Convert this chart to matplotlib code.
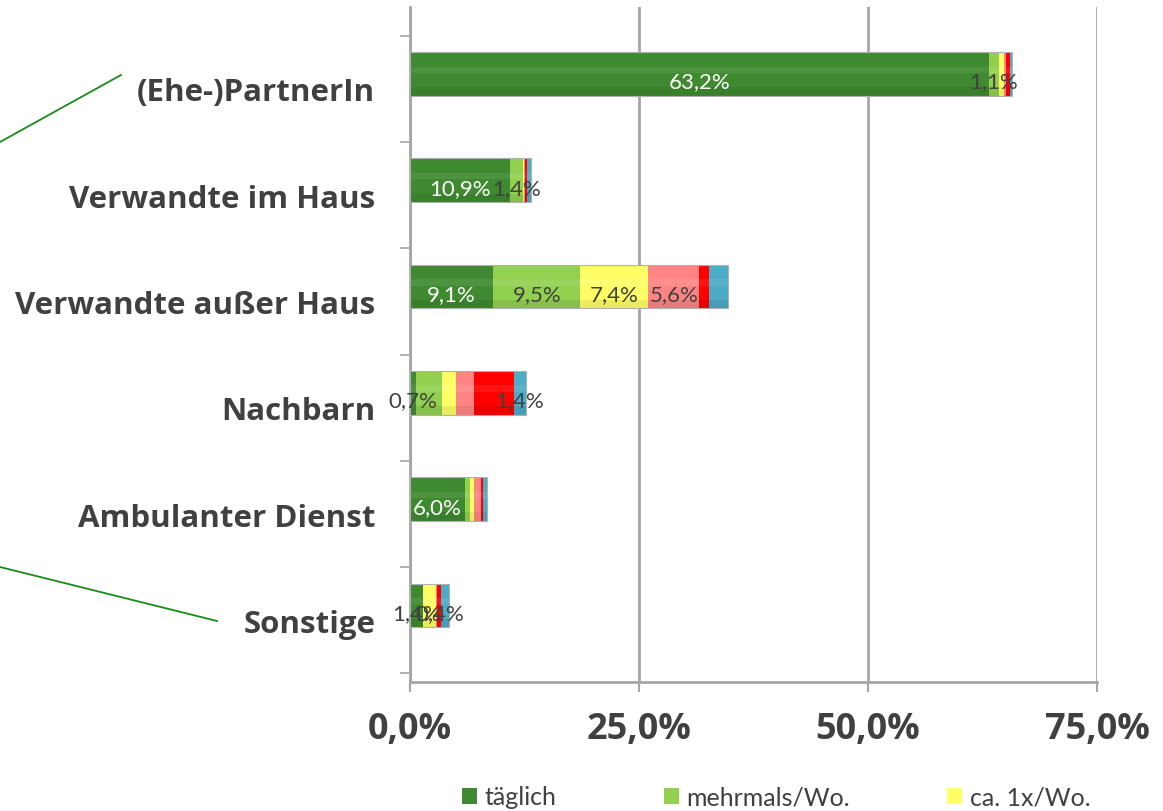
import matplotlib
matplotlib.use("Agg")
import matplotlib.pyplot as plt
from matplotlib.lines import Line2D
from matplotlib.patches import Patch
import numpy as np

categories = ["(Ehe-)PartnerIn", "Verwandte im Haus", "Verwandte außer Haus",
              "Nachbarn", "Ambulanter Dienst", "Sonstige"]
series_names = ["täglich", "mehrmals/Wo.", "ca. 1x/Wo.", "mehrmals/Monat",
                "ca. 1x/Monat", "seltener"]
taeglich = [63.2, 10.9, 9.1, 0.7, 6.0, 1.4]
mehrmals_wo = [1.1, 1.4, 9.5, 2.8, 0.5, 0.0]
ca1x_wo = [0.5, 0.1, 7.4, 1.5, 0.5, 1.4]
mehrmals_monat = [0.3, 0.2, 5.6, 2.0, 0.7, 0.2]
ca1x_monat = [0.4, 0.2, 1.0, 4.3, 0.3, 0.4]
seltener = [0.2, 0.4, 2.1, 1.4, 0.4, 0.9]
# (category index, series index) of the segments that carry a data label
labelled = [(0, 0), (0, 1), (1, 0), (1, 1), (2, 0), (2, 1), (2, 2), (2, 3),
            (3, 0), (3, 5), (4, 0), (5, 0), (5, 4)]
xticks = [0, 25, 50, 75]
xticklabels = ["0,0%", "25,0%", "50,0%", "75,0%"]

series = [taeglich, mehrmals_wo, ca1x_wo, mehrmals_monat, ca1x_monat, seltener]
colors = ["#3f8a30", "#92d050", "#ffff66", "#ff8585", "#ff0000", "#4bacc6"]
dark = "#404040"
grid = "#a6a6a6"

fig = plt.figure(figsize=(11.63, 8.12), dpi=100)
ax = fig.add_axes([410 / 1163, 129 / 812, 687 / 1163, 675 / 812])

n = len(categories)
ypos = np.arange(n)
bar_off = -0.14
bar_h = 0.41
yb = ypos + bar_off

left = np.zeros(n)
for vals, col in zip(series, colors):
    v = np.array(vals)
    ax.barh(yb, v, left=left, height=bar_h, color=col, edgecolor="none", zorder=3)
    left += v
# subtle 3D shading similar to the reference
tot = left.copy()
ax.barh(yb - 0.04, tot, height=0.06, color="white", alpha=0.08, zorder=4, edgecolor="none")
ax.barh(yb + bar_h / 2 - 0.04, tot, height=0.08, color="black", alpha=0.08, zorder=4, edgecolor="none")
ax.barh(yb, tot, height=bar_h, facecolor="none", edgecolor="#b0b0b0", linewidth=0.8, zorder=5)

# data labels
cum = np.cumsum(np.array(series), axis=0)
for ci, si in labelled:
    v = series[si][ci]
    start = cum[si][ci] - v
    xc = start + v / 2
    col = "white" if (si == 0 and v > 3) else dark
    ax.text(xc, yb[ci] + 0.07, f"{v:.1f}".replace(".", ",") + "%", ha="center", va="center",
            fontsize=16, color=col, family="Lato", zorder=6)

ax.set_xlim(0, 75)
ax.set_ylim(5.58, -0.77)
ax.set_xticks(xticks)
ax.set_xticklabels(xticklabels, fontsize=26, fontweight="bold", color=dark, family="Open Sans")
ax.set_yticks(ypos)
ax.set_yticklabels(categories, fontsize=22.5, fontweight="bold", color=dark, family="Open Sans")
ax.set_yticks(np.arange(n + 1) - 0.5, minor=True)
ax.tick_params(axis="y", which="major", length=0, pad=25)
ax.tick_params(axis="y", which="minor", length=7, color=grid, width=1.2)
ax.tick_params(axis="x", length=7, color=grid, width=1.5, pad=14)
ax.xaxis.grid(True, color=grid, linewidth=2, zorder=0)
ax.set_axisbelow(True)
for s in ["top", "right"]:
    ax.spines[s].set_visible(False)
for s in ["left", "bottom"]:
    ax.spines[s].set_color(grid)
    ax.spines[s].set_linewidth(2)

# legend (only the first three entries are visible)
leg_x = [462 / 1163, 664 / 1163, 947 / 1163]
for i in range(3):
    h = Patch(facecolor=colors[i], edgecolor="none")
    lg = fig.legend(handles=[h], labels=[series_names[i]], loc="center left",
                    bbox_to_anchor=(leg_x[i], 14 / 812), frameon=False,
                    prop={"family": "Lato", "size": 18}, handlelength=0.6,
                    handleheight=0.6, handletextpad=0.3, borderpad=0, borderaxespad=0)
    for t in lg.get_texts():
        t.set_color(dark)

# green annotation lines on the left
fig.add_artist(Line2D([0 / 1163, 121 / 1163], [1 - 143 / 812, 1 - 76 / 812],
                      transform=fig.transFigure, color="#1a8a1a", linewidth=1.3))
fig.add_artist(Line2D([0 / 1163, 217 / 1163], [1 - 568 / 812, 1 - 622 / 812],
                      transform=fig.transFigure, color="#1a8a1a", linewidth=1.3))

fig.savefig("out.png", dpi=100)
